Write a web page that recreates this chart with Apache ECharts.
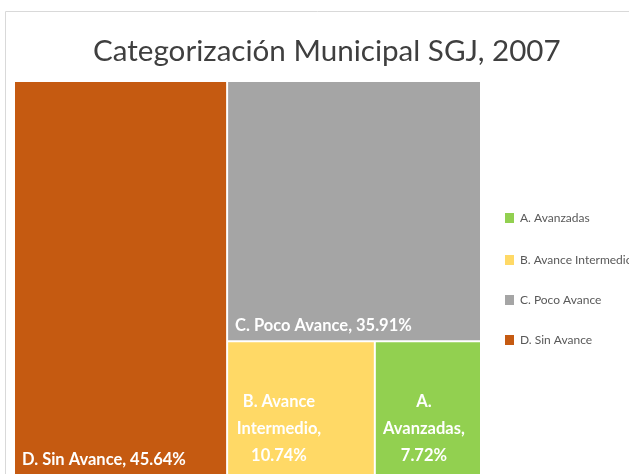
<!DOCTYPE html>
<html><head><meta charset="utf-8">
<script src="https://cdn.jsdelivr.net/npm/echarts@6/dist/echarts.min.js"></script>
<style>html,body{margin:0;padding:0;background:#fff}#c{width:629px;height:474px}</style>
</head><body><div id="c"></div>
<script>
const categories = ['A. Avanzadas', 'B. Avance Intermedio', 'C. Poco Avance', 'D. Sin Avance'];
const values = [7.72, 10.74, 35.91, 45.64];
const colors = ['#92D050', '#FFD966', '#A5A5A5', '#C55A11'];
const cellLabels = ['A.\nAvanzadas,\n7.72%', 'B. Avance\nIntermedio,\n10.74%', 'C. Poco Avance, 35.91%', 'D. Sin Avance, 45.64%'];
const title = 'Categorización Municipal SGJ, 2007';

const FONT = "Lato, 'Open Sans', sans-serif";
const chart = echarts.init(document.getElementById('c'));

const multiOffsets = [[-4, 0], [-22, 0]];
const data = categories.map((n, i) => {
  const multi = cellLabels[i].indexOf('\n') >= 0;
  return {
    name: n, value: values[i],
    itemStyle: { color: colors[i] },
    label: multi ? {
      position: 'insideBottom', align: 'center', verticalAlign: 'bottom',
      distance: 0, offset: multiOffsets[i], lineHeight: 27, formatter: cellLabels[i]
    } : {
      position: 'insideBottomLeft', distance: 0, offset: [2, -1], formatter: cellLabels[i]
    }
  };
});

const legendItems = [];
const ly = [218, 260, 300, 340];
categories.forEach((n, i) => {
  legendItems.push({ type: 'rect', shape: { x: 505, y: ly[i] - 5, width: 9, height: 10 }, style: { fill: colors[i] } });
  legendItems.push({ type: 'text', x: 520, y: ly[i], style: { text: n, fill: '#595959', font: "12px " + FONT, verticalAlign: 'middle' } });
});
legendItems.push({ type: 'rect', shape: { x: 5.5, y: 11.5, width: 640, height: 480 }, style: { fill: 'none', stroke: '#D9D9D9', lineWidth: 1 }, z: -1 });

chart.setOption({
  animation: false,
  title: { text: title, left: 88, top: 31, textStyle: { fontFamily: FONT, fontSize: 29.6, fontWeight: 'normal', color: '#3F3F3F' } },
  graphic: legendItems,
  series: [{
    type: 'treemap',
    left: 15, top: 82, width: 465, height: 392,
    squareRatio: 1,
    roam: false, nodeClick: false,
    breadcrumb: { show: false },
    label: { show: true, color: '#fff', fontFamily: FONT, fontSize: 16.5, fontWeight: 'bold' },
    itemStyle: { borderWidth: 0, gapWidth: 2, borderColor: '#fff' },
    levels: [{ itemStyle: { gapWidth: 2, borderWidth: 0 } }],
    data: data
  }]
});
</script></body></html>
